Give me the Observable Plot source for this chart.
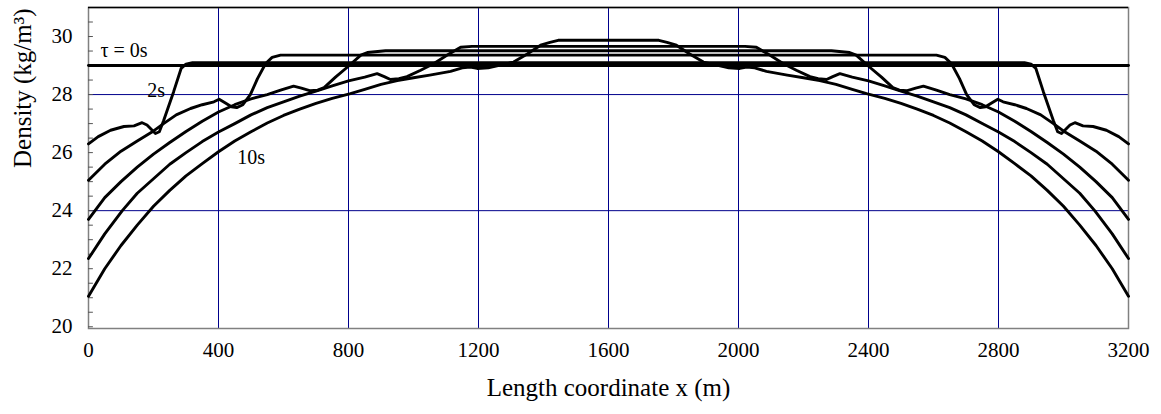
<!DOCTYPE html>
<html><head><meta charset="utf-8">
<script src="https://cdn.jsdelivr.net/npm/d3@7"></script>
<script src="https://cdn.jsdelivr.net/npm/@observablehq/plot@0.6"></script>
<style>
html,body{margin:0;padding:0;background:#fff}
svg, svg text{font-family:"Liberation Serif","Times New Roman",serif !important}
</style>
</head><body><div id="chart"></div>
<script>
// x in metres, density in kg/m3
const tau0 = [[0,29.0],[3200,29.0]];
const s2 = [[0,26.3],[30,26.55],[68,26.77],[109,26.9],[140,26.92],[165,27.03],[180,26.95],[206,26.66],[218,26.72],[231,27.1],[262,28.1],[285,28.9],[300,29.05],[320,29.1],[2880,29.1],[2900,29.05],[2915,28.9],[2938,28.1],[2969,27.1],[2982,26.72],[2994,26.66],[3020,26.95],[3035,27.03],[3060,26.92],[3091,26.9],[3132,26.77],[3170,26.55],[3200,26.3]];
const s4 = [[0,25.05],[50,25.6],[100,26.05],[150,26.4],[194,26.7],[231,27.0],[270,27.3],[314,27.52],[350,27.65],[386,27.75],[402,27.84],[420,27.72],[440,27.58],[456,27.55],[475,27.65],[498,28.0],[520,28.55],[545,29.07],[565,29.28],[591,29.36],[2609,29.36],[2635,29.28],[2655,29.07],[2680,28.55],[2702,28.0],[2725,27.65],[2744,27.55],[2760,27.58],[2780,27.72],[2798,27.84],[2814,27.75],[2850,27.65],[2886,27.52],[2930,27.3],[2969,27.0],[3006,26.7],[3050,26.4],[3100,26.05],[3150,25.6],[3200,25.05]];
const s6 = [[0,23.7],[50,24.45],[100,25.0],[150,25.5],[200,25.95],[250,26.35],[300,26.73],[350,27.08],[400,27.4],[450,27.65],[500,27.85],[550,28.0],[591,28.15],[631,28.29],[655,28.22],[683,28.13],[705,28.15],[725,28.24],[760,28.6],[797,28.95],[838,29.36],[858,29.45],[914,29.51],[2286,29.51],[2342,29.45],[2362,29.36],[2403,28.95],[2440,28.6],[2475,28.24],[2495,28.15],[2517,28.13],[2545,28.22],[2569,28.29],[2609,28.15],[2650,28.0],[2700,27.85],[2750,27.65],[2800,27.4],[2850,27.08],[2900,26.73],[2950,26.35],[3000,25.95],[3050,25.5],[3100,25.0],[3150,24.45],[3200,23.7]];
const s8 = [[0,22.35],[50,23.2],[104,24.0],[150,24.6],[200,25.1],[250,25.6],[300,26.0],[350,26.38],[400,26.71],[450,27.0],[500,27.3],[550,27.55],[600,27.75],[650,27.95],[700,28.12],[750,28.3],[800,28.47],[850,28.6],[888,28.72],[910,28.62],[929,28.52],[955,28.55],[980,28.62],[1022,28.84],[1063,29.07],[1104,29.36],[1145,29.63],[1180,29.66],[2020,29.66],[2055,29.63],[2096,29.36],[2137,29.07],[2178,28.84],[2220,28.62],[2245,28.55],[2271,28.52],[2290,28.62],[2312,28.72],[2350,28.6],[2400,28.47],[2450,28.3],[2500,28.12],[2550,27.95],[2600,27.75],[2650,27.55],[2700,27.3],[2750,27.0],[2800,26.71],[2850,26.38],[2900,26.0],[2950,25.6],[3000,25.1],[3050,24.6],[3096,24.0],[3150,23.2],[3200,22.35]];
const s10 = [[0,21.05],[50,22.0],[100,22.8],[150,23.5],[200,24.15],[250,24.7],[300,25.2],[350,25.62],[400,26.03],[450,26.4],[500,26.72],[550,27.02],[600,27.28],[650,27.5],[700,27.7],[750,27.87],[806,28.03],[850,28.18],[900,28.35],[950,28.48],[1000,28.58],[1050,28.67],[1114,28.8],[1150,28.92],[1175,28.95],[1196,28.9],[1230,28.92],[1260,29.0],[1308,29.12],[1350,29.4],[1391,29.7],[1420,29.8],[1445,29.87],[1755,29.87],[1780,29.8],[1809,29.7],[1850,29.4],[1892,29.12],[1940,29.0],[1970,28.92],[2004,28.9],[2025,28.95],[2050,28.92],[2086,28.8],[2150,28.67],[2200,28.58],[2250,28.48],[2300,28.35],[2350,28.18],[2394,28.03],[2450,27.87],[2500,27.7],[2550,27.5],[2600,27.28],[2650,27.02],[2700,26.72],[2750,26.4],[2800,26.03],[2850,25.62],[2900,25.2],[2950,24.7],[3000,24.15],[3050,23.5],[3100,22.8],[3150,22.0],[3200,21.05]];

const seriesNames = ["0s","2s","4s","6s","8s","10s"];
const seriesData = [tau0, s2, s4, s6, s8, s10];

const xTicks = [0,400,800,1200,1600,2000,2400,2800,3200];
const xGrid = [400,800,1200,1600,2000,2400,2800];
const yTicks = [20,22,24,26,28,30];
const yGrid = [24,28];
const yMinor = [20,20.5,21,21.5,22,22.5,23,23.5,24,24.5,25,25.5,26,26.5,27,27.5,28,28.5,29,29.5,30,30.5];

const curveLabels = [
  {text:"\u03c4 = 0s", x:37, v:29.5},
  {text:"2s", x:181, v:28.15},
  {text:"10s", x:458, v:25.83}
];
const xTitle = "Length coordinate x (m)";
const yTitle = "Density (kg/m\u00b3)";

const serif = "Liberation Serif";
const rows = seriesData.flatMap((pts, i) => pts.map(([x, v]) => ({series: seriesNames[i], x, v})));

const chart = Plot.plot({
  width: 1161, height: 414,
  marginLeft: 88, marginRight: 33, marginTop: 7, marginBottom: 86,
  style: {fontFamily: "'Liberation Serif', serif", background: "#fff", color: "#000", overflow: "visible"},
  x: {domain: [0, 3200], axis: null},
  y: {domain: [19.94, 31], axis: null},
  marks: [
    Plot.ruleX(xGrid, {stroke: "#00008b", strokeWidth: 1}),
    Plot.ruleY(yGrid, {stroke: "#00008b", strokeWidth: 1}),
    Plot.frame({stroke: "#808080", strokeWidth: 1.5}),
    Plot.ruleY([31], {stroke: "#000", strokeWidth: 1.5}),
    Plot.ruleY(yMinor, {x1: 0, x2: 15, stroke: "#555", strokeWidth: 1}),
    Plot.axisX({ticks: xTicks, tickSize: 0, tickPadding: 14, fontSize: 21, fontFamily: serif, fontVariant: "normal", tickFormat: "d", label: null}),
    Plot.axisY({ticks: yTicks, tickSize: 0, tickPadding: 16, fontSize: 21, fontFamily: serif, fontVariant: "normal", tickFormat: "d", label: null}),
    Plot.line(rows, {x: "x", y: "v", z: "series", stroke: "#000", strokeWidth: 2.9, strokeLinejoin: "round"}),
    Plot.text(curveLabels, {x: "x", y: "v", text: "text", textAnchor: "start", fontSize: 20, fontFamily: serif, fill: "#000"}),
    Plot.text([xTitle], {frameAnchor: "bottom", dy: 67, fontSize: 25, fontFamily: serif, fill: "#000"}),
    Plot.text([yTitle], {frameAnchor: "left", dx: -66, rotate: -90, fontSize: 25, fontFamily: serif, fill: "#000"})
  ]
});
document.getElementById("chart").appendChild(chart);
</script>
</body></html>
